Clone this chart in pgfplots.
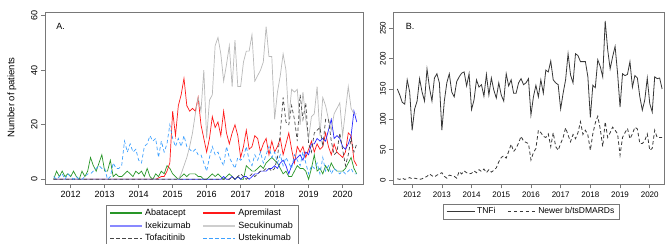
\documentclass[border=0pt]{standalone}
\usepackage{pgfplots}
\pgfplotsset{compat=1.18}
\usepackage{pgfplotstable}
\usepackage{fontspec}
\setmainfont{Liberation Sans}
\definecolor{axgray}{RGB}{120,120,120}
\definecolor{cAba}{RGB}{40,150,40}
\definecolor{cApr}{RGB}{255,25,25}
\definecolor{cIxe}{RGB}{40,40,255}
\definecolor{cSec}{RGB}{185,185,185}
\definecolor{cTof}{RGB}{70,70,70}
\definecolor{cUst}{RGB}{60,160,255}
\definecolor{cTnf}{RGB}{55,55,55}

\pgfplotstableread{
i aba apr ixe sec tof ust tnf new
0 0 0 0 0 0 1 150 2
1 3 0 0 0 0 0 140 1
2 1 0 0 0 0 1 128 3
3 3 0 0 0 0 2 125 1
4 1 0 0 0 0 0 165 2
5 2 0 0 0 0 2 145 4
6 1 0 0 0 0 1 82 2
7 3 0 0 0 0 0 117 3
8 1 0 0 0 0 1 130 2
9 0 0 0 0 0 0 167 1
10 3 0 0 0 0 0 145 2
11 1 0 0 0 0 1 130 4
12 3 0 0 0 0 2 183 6
13 8 0 0 0 0 2 152 10
14 5 0 0 0 0 3 130 7
15 3 0 0 0 0 4 168 5
16 6 0 0 0 0 5 175 8
17 9 0 0 0 0 4 160 10
18 3 0 0 0 0 4 82 12
19 3 0 0 0 0 0 130 6
20 7 0 0 0 0 1 160 3
21 1 0 0 0 0 6 175 8
22 2 0 0 0 0 4 145 7
23 1 0 0 0 0 4 137 6
24 1 0 0 0 0 5 162 3
25 2 0 0 0 0 14 170 14
26 3 0 0 0 0 10 176 10
27 2 0 0 0 0 13 178 15
28 1 0 0 0 0 10 155 12
29 3 0 0 0 0 11 175 10
30 2 0 0 0 0 7 116 11
31 3 0 0 0 0 6 132 15
32 1 0 0 0 0 12 165 12
33 4 0 0 0 0 13 153 17
34 1 0 0 0 0 16 157 14
35 0 0 0 0 0 14 138 18
36 2 0 0 0 0 15 174 12
37 1 0.5 0 0 0 8 140 17
38 3 1 0 0 0 14 168 13
39 2 1 0 0 0 10 148 16
40 5 3 0 0 0 13 135 20
41 4 6 0 0 0 20 160 30
42 2 25 0 0 0 15 140 37
43 1 16 0 0 0 12 130 40
44 0 27 0 0 0 15 175 36
45 1 31 0 2 0 12 155 47
46 2 37 0 5 0 16 165 59
47 1 27 0 8 0 12 143 47
48 2 25 0 12 0 11 143 52
49 2 26 0 17 0 10 160 61
50 2 25 0 24 0 11 167 72
51 1 30 0 30 0 9 157 64
52 1 20 0 25 0 9 160 62
53 0 15 0 40 0 6 167 60
54 0 10 0 15 0 3 107 33
55 1 15 0 29 0 8 137 45
56 2 23 0 31 0 12 156 52
57 1 19 0 49 0 9 137 82
58 2 21 0 52 0 10 165 78
59 1 16 0 46 0 7 143 72
60 0 25 1 36 0 5 181 70
61 1 17 0 42 0 12 178 76
62 2 13 0 49 0 8 196 55
63 1 17 1 34 1 6 165 78
64 0 20 0 51 0 4 160 55
65 1 16 1 34 1 8 157 49
66 0 8 0 34 2 7 117 60
67 0 12 1 43 1 8 143 70
68 5 18 1 47 0 12 165 86
69 4 11 0 47 1 7 208 74
70 3 12 1 53 2 5 173 63
71 3 16 2 36 1 9 160 75
72 4 15 2 38 2 7 208 68
73 5 10 3 40 3 10 205 78
74 4 13 3 43 3 6 195 96
75 6 15 3 56 4 9 195 75
76 7 9 4 45 4 12 195 82
77 8 14 4 45 3 8 170 74
78 7 10 5 22 4 10 103 49
79 6 12 4 32 8 6 156 76
80 4 15 6 38 17 9 152 94
81 2 9 7 46 30 5 198 105
82 3 13 5 40 21 8 187 84
83 1 17 2 22 20 6 170 55
84 1 11 5 33 27 4 262 96
85 3 6 7 32 22 9 215 70
86 5 12 8 33 14 7 183 78
87 4 10 9 20 31 5 203 87
88 4 12 7 32 22 10 220 82
89 3 8 10 22 28 6 176 76
90 0 11 9 15 13 2 120 41
91 4 14 13 23 10 5 175 70
92 9 10 13 24 17 4 172 78
93 3 13 15 34 18 6 174 85
94 4 11 14 16 19 2 195 68
95 2 12 15 30 12 8 153 76
96 5 17 14 27 22 3 172 87
97 3 12 18 22 22 5 168 84
98 6 9 22 18 14 2 137 60
99 4 13 15 24 9 4 115 60
100 3 10 16 26 10 3 132 65
101 3 9 15 28 17 2 168 76
102 3 8 12 16 11 3 126 49
103 4 10 11 25 5 2 112 52
104 6 17 13 34 9 3 170 82
105 8 16 16 26 15 4 167 70
106 4 7 25 24 10 2 168 70
107 2 5 21 24 13 2 150 70
}\datatab

\begin{document}
\begin{tikzpicture}
\useasboundingbox (0pt,0pt) rectangle (665pt,244pt);
\pgfplotsset{
  every axis/.append style={
    scale only axis,
    anchor=south west,
    axis line style={draw=axgray, line width=0.6pt},
    tick style={draw=axgray, line width=0.6pt},
    major tick length=4pt,
    tick align=outside,
    tick pos=left,
    xtick={6,18,30,42,54,66,78,90,102},
    xticklabels={2012,2013,2014,2015,2016,2017,2018,2019,2020},
    /pgf/number format/assume math mode=true,
    yticklabel style={rotate=90, anchor=south},
    legend cell align=left,
  },
}
\begin{axis}[
  at={(45pt,60pt)}, width=318pt, height=171.7pt,
  xmin=-3.07, xmax=109.2, ymin=-1.72, ymax=61.24,
  ytick={0,20,40,60},
  tick label style={font=\fontsize{9}{10}\selectfont},
  ylabel={Number of patients},
  ylabel style={at={(axis description cs:-0.104,0.504)}, anchor=center, font=\fontsize{9.5}{11}\selectfont},
  legend columns=2,
  legend image code/.code={\draw[#1] (0pt,0pt) -- (32pt,0pt);},
  legend style={at={(axis description cs:0.192,-0.122)}, anchor=north west,
    draw=axgray, font=\fontsize{9}{10}\selectfont,
    /tikz/every even column/.append style={column sep=10pt},
    nodes={inner ysep=2.1pt, text height=6.6pt, text depth=1.9pt},
    row sep=0pt, inner ysep=1.5pt},
]
\addplot[color=cAba, line width=0.7pt, forget plot] table[x=i, y=aba] {\datatab};
\addplot[color=cApr, line width=0.7pt, forget plot] table[x=i, y=apr] {\datatab};
\addplot[color=cIxe, line width=0.7pt, forget plot] table[x=i, y=ixe] {\datatab};
\addplot[color=cSec, line width=0.7pt, forget plot] table[x=i, y=sec] {\datatab};
\addplot[color=cTof, line width=0.7pt, dash pattern=on 3.5pt off 2.5pt, forget plot] table[x=i, y=tof] {\datatab};
\addplot[color=cUst, line width=0.7pt, dash pattern=on 3.5pt off 2.5pt, forget plot] table[x=i, y=ust] {\datatab};
\addlegendimage{draw=cAba, line width=1.2pt, solid}
\addlegendentry{Abatacept}
\addlegendimage{draw=cApr, line width=1.2pt, solid}
\addlegendentry{Apremilast}
\addlegendimage{draw=cIxe!55, line width=1.8pt, solid}
\addlegendentry{Ixekizumab}
\addlegendimage{draw=cSec!70, line width=1.8pt, solid}
\addlegendentry{Secukinumab}
\addlegendimage{draw=cTof, line width=0.8pt, dash pattern=on 3.5pt off 2.5pt}
\addlegendentry{Tofacitinib}
\addlegendimage{draw=cUst, line width=0.8pt, dash pattern=on 3.5pt off 2.5pt}
\addlegendentry{Ustekinumab}
\node[anchor=north west, inner sep=0pt, font=\fontsize{9}{10}\selectfont] at (axis description cs:0.035,0.938) {A.};
\end{axis}
\begin{axis}[
  at={(393.3pt,59.7pt)}, width=270.7pt, height=171.6pt,
  xmin=-1.62, xmax=107.76, ymin=-7.1, ymax=275.6,
  ytick={0,50,100,150,200,250},
  tick label style={font=\fontsize{8}{9}\selectfont},
  legend columns=2,
  legend image code/.code={\draw[#1] (0pt,0pt) -- (28pt,0pt);},
  legend style={at={(axis description cs:0.184,-0.115)}, anchor=north west,
    draw=axgray, font=\fontsize{8.5}{9.5}\selectfont,
    /tikz/every even column/.append style={column sep=10pt},
    inner ysep=1.5pt},
]
\addplot[color=cTnf, line width=0.8pt] table[x=i, y=tnf] {\datatab};
\addlegendentry{TNFi}
\addplot[color=cTnf, line width=0.8pt, dash pattern=on 3.5pt off 2.5pt] table[x=i, y=new] {\datatab};
\addlegendentry{Newer b/tsDMARDs}
\node[anchor=north west, inner sep=0pt, font=\fontsize{9}{10}\selectfont] at (axis description cs:0.046,0.938) {B.};
\end{axis}
\end{tikzpicture}
\end{document}
